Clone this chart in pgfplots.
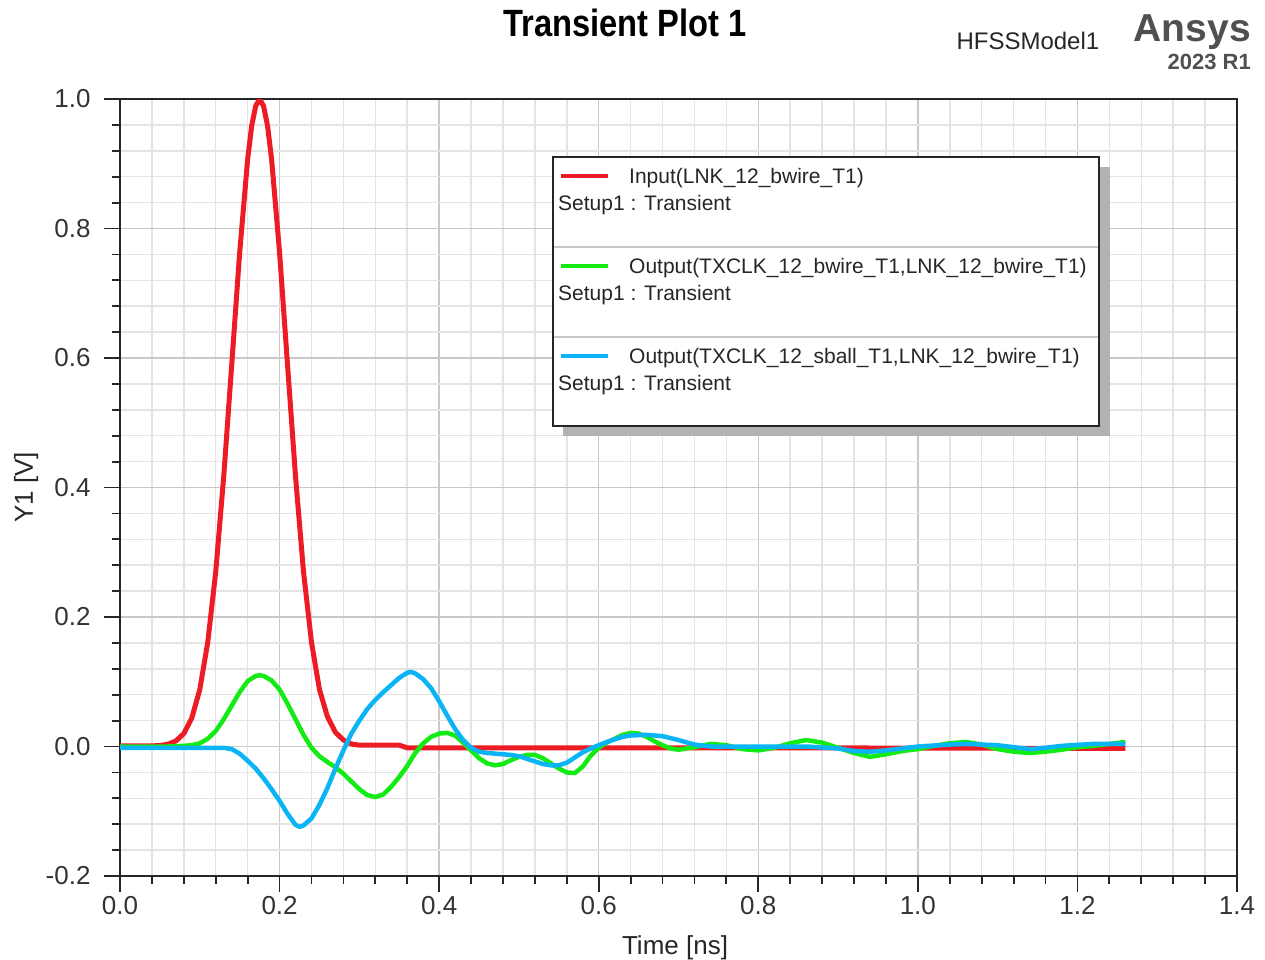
\documentclass[border=0pt]{standalone}
\usepackage{fontspec}
\setmainfont{Liberation Sans}
\newfontfamily\titlefont{Liberation Sans}[FakeStretch=0.86]
\usepackage{pgfplots}
\pgfplotsset{compat=1.18}
\usepackage{pgfplotstable}
\definecolor{cred}{RGB}{237,28,36}
\definecolor{cgreen}{RGB}{20,235,20}
\definecolor{cblue}{RGB}{10,180,245}
\definecolor{majgrid}{RGB}{200,200,200}
\definecolor{mingrid}{RGB}{228,228,228}
\definecolor{ansysgray}{RGB}{80,80,80}

\pgfplotstableread{
x y
0 0.001
0.04 0.001
0.05 0.0015
0.06 0.0035
0.07 0.0085
0.08 0.020
0.09 0.044
0.10 0.088
0.11 0.161
0.12 0.270
0.13 0.417
0.14 0.589
0.15 0.763
0.16 0.907
0.165 0.958
0.17 0.989
0.175 1.0
0.18 0.989
0.185 0.958
0.19 0.907
0.20 0.763
0.21 0.589
0.22 0.417
0.23 0.270
0.24 0.161
0.25 0.088
0.26 0.046
0.27 0.022
0.28 0.010
0.29 0.004
0.30 0.002
0.35 0.002
0.36 -0.002
0.50 -0.002
0.80 -0.002
1.26 -0.003
}\inputdata

\pgfplotstableread{
x y
0 0
0.06 0.0
0.08 0.001
0.09 0.002
0.10 0.005
0.11 0.012
0.12 0.024
0.13 0.042
0.14 0.063
0.15 0.084
0.16 0.101
0.17 0.109
0.175 0.110
0.18 0.109
0.19 0.102
0.20 0.088
0.21 0.066
0.22 0.042
0.23 0.018
0.24 -0.002
0.25 -0.015
0.26 -0.024
0.27 -0.032
0.28 -0.042
0.29 -0.054
0.30 -0.066
0.31 -0.075
0.32 -0.078
0.33 -0.074
0.34 -0.062
0.35 -0.047
0.36 -0.030
0.37 -0.010
0.38 0.005
0.39 0.015
0.40 0.020
0.41 0.021
0.42 0.017
0.43 0.006
0.44 -0.006
0.45 -0.018
0.46 -0.026
0.47 -0.029
0.48 -0.027
0.49 -0.021
0.50 -0.016
0.51 -0.013
0.52 -0.013
0.53 -0.018
0.54 -0.026
0.55 -0.034
0.56 -0.040
0.57 -0.041
0.58 -0.031
0.59 -0.014
0.60 -0.002
0.61 0.006
0.62 0.012
0.63 0.018
0.64 0.021
0.65 0.020
0.66 0.015
0.67 0.008
0.68 0.002
0.69 -0.003
0.70 -0.005
0.72 -0.001
0.74 0.004
0.76 0.002
0.78 -0.004
0.80 -0.006
0.82 -0.002
0.84 0.005
0.86 0.010
0.88 0.006
0.90 -0.002
0.92 -0.010
0.94 -0.016
0.96 -0.012
0.98 -0.007
1.00 -0.004
1.02 0.001
1.04 0.005
1.06 0.007
1.08 0.003
1.10 -0.004
1.12 -0.008
1.14 -0.010
1.16 -0.008
1.18 -0.005
1.20 -0.001
1.22 0.001
1.24 0.004
1.26 0.007
}\bwiredata

\pgfplotstableread{
x y
0 -0.002
0.13 -0.002
0.14 -0.004
0.15 -0.011
0.16 -0.022
0.17 -0.034
0.18 -0.049
0.19 -0.066
0.20 -0.084
0.21 -0.104
0.22 -0.121
0.225 -0.124
0.23 -0.122
0.24 -0.111
0.25 -0.090
0.26 -0.064
0.27 -0.034
0.28 -0.006
0.29 0.020
0.30 0.040
0.31 0.058
0.32 0.072
0.33 0.084
0.34 0.095
0.35 0.106
0.36 0.114
0.365 0.115
0.37 0.113
0.38 0.104
0.39 0.090
0.40 0.070
0.41 0.048
0.42 0.027
0.43 0.010
0.44 -0.002
0.45 -0.008
0.46 -0.010
0.47 -0.011
0.48 -0.012
0.49 -0.013
0.50 -0.015
0.51 -0.019
0.52 -0.023
0.53 -0.027
0.54 -0.029
0.55 -0.029
0.56 -0.025
0.57 -0.017
0.58 -0.009
0.59 -0.003
0.60 0.002
0.61 0.007
0.62 0.011
0.63 0.015
0.64 0.017
0.66 0.018
0.68 0.016
0.70 0.010
0.72 0.003
0.74 0.000
0.78 0.000
0.82 0.000
0.86 0.000
0.90 -0.003
0.92 -0.007
0.94 -0.008
0.96 -0.006
0.98 -0.003
1.00 0.000
1.04 0.003
1.06 0.004
1.10 0.002
1.14 -0.004
1.16 -0.002
1.18 0.001
1.22 0.004
1.26 0.004
}\sballdata

\begin{document}
\begin{tikzpicture}[x=1pt,y=1pt]
\useasboundingbox (0,0) rectangle (1265,-960);
\begin{axis}[
  at={(120pt,-876pt)}, anchor=south west,
  width=1117pt, height=777pt, scale only axis,
  xmin=0, xmax=1.4, ymin=-0.2, ymax=1.0,
  xtick={0,0.2,...,1.4}, ytick={-0.2,0,0.2,0.4,0.6,0.8,1.0},
  minor tick num=4,
  grid=both,
  major grid style={draw=majgrid, line width=1.5pt},
  minor grid style={draw=mingrid, line width=1.5pt},
  axis line style={black!85, line width=2pt},
  tick align=outside,
  major tick length=16pt, minor tick length=8pt,
  tick style={black!85, line width=1.8pt},
  xtick pos=bottom, ytick pos=left,
  /pgf/number format/assume math mode=true,
  xticklabel={\pgfmathprintnumber[fixed,fixed zerofill,precision=1]{\tick}},
  yticklabel={\pgfmathprintnumber[fixed,fixed zerofill,precision=1]{\tick}},
  ticklabel style={font=\fontsize{26}{30}\selectfont, text=black!80},
  yticklabel style={xshift=-10pt},
  xticklabel style={yshift=-1pt},
  xlabel={Time [ns]}, ylabel={Y1 [V]},
  label style={font=\fontsize{26}{30}\selectfont, text=black!85},
  x label style={at={(axis description cs:0.4969,-0.1004)}, anchor=base},
  y label style={at={(axis description cs:-0.0779,0.5)}, anchor=base},
  title={\titlefont\bfseries Transient Plot 1},
  title style={at={(axis description cs:0.4521,1.0721)}, anchor=base, font=\fontsize{38}{41}\selectfont},
  clip=true,
]
\addplot[cred, line width=5pt, line join=round] table[x=x,y=y] {\inputdata};
\addplot[cgreen, line width=4.5pt, line join=round] table[x=x,y=y] {\bwiredata};
\addplot[cblue, line width=4.5pt, line join=round] table[x=x,y=y] {\sballdata};
\end{axis}
% header texts
\node[anchor=base west, font=\fontsize{24}{28}\selectfont, text=black!85] at (953,-50) {HFSSModel1};
\node[anchor=base east, font=\fontsize{39}{42}\selectfont\bfseries, text=ansysgray, inner sep=0pt] at (1251,-42) {Ansys};
\node[anchor=base east, font=\fontsize{22}{24}\selectfont\bfseries, text=ansysgray, inner sep=0pt] at (1251,-70) {2023 R1};
% legend
\fill[black!30] (563,-167) rectangle (1110,-436);
\filldraw[fill=white, draw=black!85, line width=2pt] (553,-157) rectangle (1099,-426);
\draw[majgrid, line width=1.5pt] (554,-247) -- (1098,-247);
\draw[majgrid, line width=1.5pt] (554,-337) -- (1098,-337);
\draw[cred, line width=4pt] (561,-176) -- (608,-176);
\draw[cgreen, line width=4pt] (561,-266) -- (608,-266);
\draw[cblue, line width=4pt] (561,-356) -- (608,-356);
\begin{scope}[every node/.style={anchor=base west, inner sep=0pt, font=\fontsize{21}{24}\selectfont, text=black!85}]
\node at (629,-183) {Input(LNK\_12\_bwire\_T1)};
\node at (558,-210) {Setup1 : Transient};
\node at (629,-273) {Output(TXCLK\_12\_bwire\_T1,LNK\_12\_bwire\_T1)};
\node at (558,-300) {Setup1 : Transient};
\node at (629,-363) {Output(TXCLK\_12\_sball\_T1,LNK\_12\_bwire\_T1)};
\node at (558,-390) {Setup1 : Transient};
\end{scope}
\end{tikzpicture}
\end{document}
